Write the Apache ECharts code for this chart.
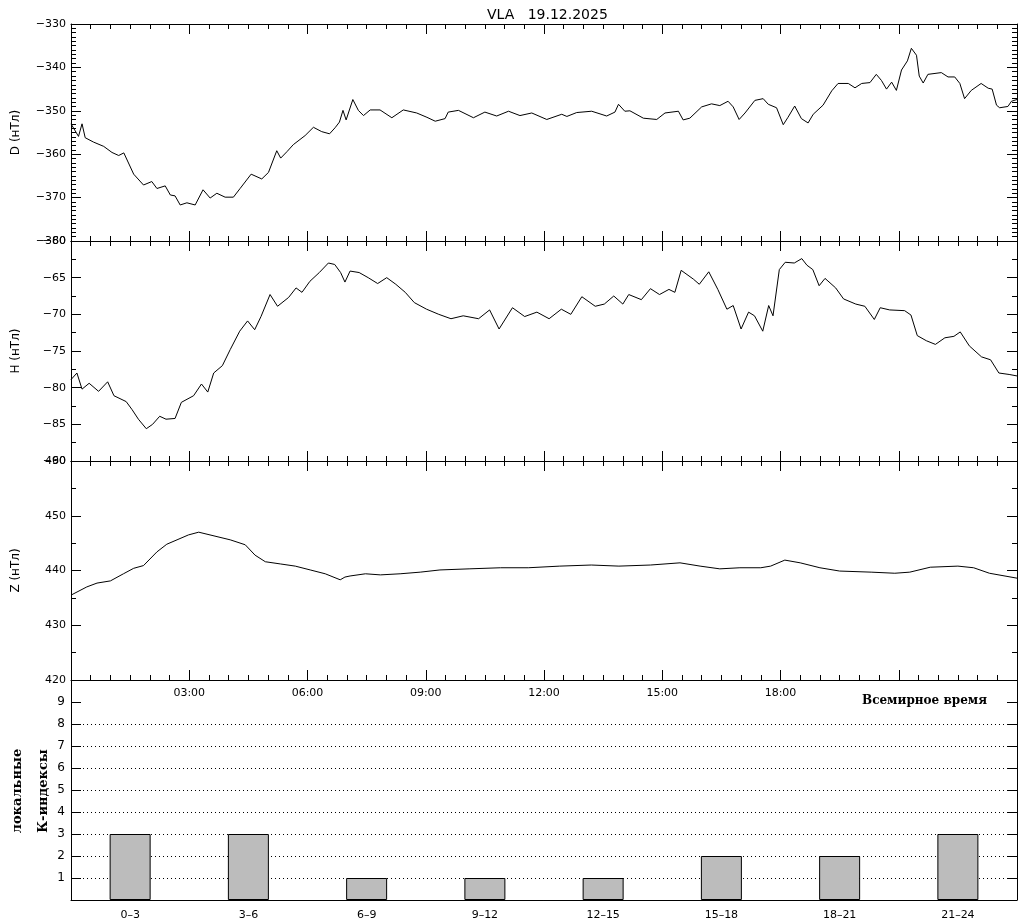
<!DOCTYPE html>
<html><head><meta charset="utf-8">
<script src="https://cdn.jsdelivr.net/npm/echarts@6/dist/echarts.min.js"></script>
<style>html,body{margin:0;padding:0;background:#fff}#c{width:1024px;height:921px}</style>
</head><body><div id="c"></div>
<script>
// ---- data (hours UT, nT) ----
const dTime = [0.00,0.19,0.28,0.36,0.57,0.83,1.04,1.21,1.34,1.59,1.84,2.05,2.18,2.39,2.52,2.64,2.77,2.94,3.15,3.35,3.53,3.70,3.91,4.12,4.29,4.57,4.84,5.01,5.22,5.32,5.48,5.64,5.94,6.15,6.36,6.56,6.70,6.81,6.90,6.98,7.15,7.29,7.42,7.59,7.84,8.14,8.43,8.77,9.03,9.24,9.49,9.57,9.83,10.21,10.50,10.80,11.10,11.39,11.69,12.07,12.45,12.58,12.83,13.21,13.59,13.80,13.89,14.05,14.18,14.52,14.86,15.07,15.41,15.53,15.70,16.00,16.25,16.46,16.67,16.80,16.95,17.10,17.35,17.56,17.69,17.90,18.07,18.19,18.36,18.53,18.70,18.83,19.08,19.30,19.46,19.72,19.89,20.06,20.27,20.43,20.56,20.69,20.82,20.94,21.07,21.22,21.32,21.45,21.52,21.62,21.74,22.08,22.25,22.42,22.55,22.67,22.84,23.09,23.27,23.37,23.48,23.56,23.77,23.86,24.00];
const dVal = [-353.0,-355.9,-353.0,-356.2,-357.2,-358.2,-359.6,-360.3,-359.7,-364.6,-367.1,-366.3,-367.9,-367.3,-369.4,-369.6,-371.7,-371.2,-371.7,-368.2,-370.1,-369.0,-369.9,-369.9,-367.9,-364.6,-365.7,-364.2,-359.2,-360.9,-359.4,-357.8,-355.7,-353.8,-354.8,-355.3,-353.9,-352.6,-349.9,-352.1,-347.4,-349.9,-351.1,-349.8,-349.8,-351.6,-349.8,-350.5,-351.5,-352.4,-351.8,-350.3,-349.9,-351.6,-350.3,-351.2,-350.1,-351.1,-350.5,-352.0,-350.8,-351.3,-350.4,-350.1,-351.2,-350.3,-348.5,-350.1,-350.0,-351.7,-352.0,-350.5,-350.1,-352.1,-351.7,-349.1,-348.4,-348.8,-347.8,-349.1,-352.0,-350.5,-347.6,-347.2,-348.5,-349.3,-353.2,-351.5,-348.9,-351.8,-352.8,-350.8,-348.7,-345.4,-343.7,-343.7,-344.7,-343.7,-343.5,-341.6,-343.0,-345.0,-343.4,-345.3,-340.6,-338.5,-335.6,-337.2,-342.0,-343.6,-341.6,-341.2,-342.2,-342.2,-343.7,-347.2,-345.3,-343.7,-344.8,-345.0,-348.7,-349.3,-349.0,-347.8,-347.4];

const hTime = [0.00,0.15,0.28,0.46,0.70,0.93,1.09,1.40,1.55,1.71,1.91,2.07,2.25,2.41,2.64,2.80,3.11,3.31,3.47,3.62,3.84,4.04,4.28,4.48,4.66,4.82,5.05,5.24,5.52,5.71,5.86,6.06,6.30,6.53,6.69,6.84,6.95,7.08,7.31,7.54,7.78,8.01,8.24,8.48,8.71,9.02,9.33,9.64,9.95,10.34,10.62,10.86,11.20,11.51,11.82,12.13,12.44,12.68,12.96,13.30,13.53,13.77,14.00,14.15,14.47,14.70,14.93,15.17,15.32,15.48,15.79,15.94,16.18,16.41,16.64,16.80,17.00,17.19,17.34,17.55,17.70,17.81,17.97,18.12,18.35,18.54,18.67,18.82,18.98,19.13,19.40,19.60,19.91,20.14,20.38,20.53,20.77,21.15,21.31,21.47,21.70,21.93,22.17,22.40,22.56,22.79,23.10,23.33,23.54,23.80,24.00];
const hVal = [-78.9,-78.0,-80.2,-79.4,-80.5,-79.2,-81.1,-81.9,-83.0,-84.3,-85.6,-85.0,-83.9,-84.3,-84.2,-82.0,-81.1,-79.5,-80.6,-78.0,-77.0,-74.8,-72.3,-70.9,-72.1,-70.3,-67.3,-68.9,-67.7,-66.4,-67.0,-65.5,-64.3,-63.0,-63.2,-64.3,-65.6,-64.1,-64.3,-65.0,-65.8,-65.0,-65.9,-67.0,-68.4,-69.3,-70.0,-70.6,-70.2,-70.6,-69.4,-72.0,-69.1,-70.3,-69.7,-70.6,-69.3,-70.0,-67.6,-68.9,-68.6,-67.5,-68.6,-67.3,-68.0,-66.5,-67.3,-66.6,-67.0,-64.0,-65.2,-65.9,-64.2,-66.6,-69.3,-68.8,-72.0,-69.7,-70.2,-72.3,-68.8,-70.2,-63.9,-62.9,-63.0,-62.4,-63.3,-63.9,-66.1,-65.1,-66.4,-67.9,-68.6,-68.9,-70.7,-69.1,-69.4,-69.5,-70.1,-72.9,-73.6,-74.1,-73.2,-73.0,-72.4,-74.3,-75.8,-76.2,-78.0,-78.2,-78.4];

const zTime = [0.00,0.40,0.66,1.00,1.33,1.59,1.84,2.18,2.43,2.69,2.98,3.24,4.04,4.42,4.67,4.93,5.31,5.69,6.07,6.45,6.83,6.95,7.08,7.47,7.85,8.35,8.86,9.36,10.10,10.90,11.60,12.40,13.20,13.90,14.70,15.45,15.96,16.46,16.97,17.50,17.75,18.11,18.50,19.00,19.50,20.30,20.90,21.28,21.80,22.50,22.90,23.30,24.00];
const zVal = [435.5,437.0,437.7,438.1,439.4,440.4,440.9,443.4,444.8,445.6,446.5,447.0,445.6,444.7,442.8,441.6,441.2,440.8,440.1,439.4,438.3,438.8,439.0,439.4,439.2,439.4,439.7,440.1,440.3,440.5,440.5,440.8,441.0,440.8,441.0,441.4,440.8,440.3,440.5,440.5,440.8,441.9,441.4,440.5,439.9,439.7,439.5,439.7,440.6,440.8,440.5,439.5,438.6];

const kCats = ['0–3','3–6','6–9','9–12','12–15','15–18','18–21','21–24'];
const kVals = [3,3,1,1,1,2,2,3];

const dTicks = [-380,-370,-360,-350,-340,-330];
const hTicks = [-90,-85,-80,-75,-70,-65,-60];
const zTicks = [420,430,440,450,460];
const timeLabels = ['03:00','06:00','09:00','12:00','15:00','18:00'];

// ---- chart ----
const FONT = 'DejaVu Sans';
const SERIF_B = 'bold 13px "DejaVu Serif"';
const chart = echarts.init(document.getElementById('c'), null, {renderer:'canvas'});
const grids = [
  {left:71, top:24, width:946, height:217},
  {left:71, top:241, width:946, height:220},
  {left:71, top:461, width:946, height:219},
  {left:71, top:680, width:946, height:220}
].map(g => Object.assign({outerBoundsMode:'none', containLabel:false, show:false}, g));

const black = {color:'#000', width:1};
function xAx(gi, pos, labels) {
  return {
    type:'value', gridIndex:gi, position:pos, min:0, max:24, interval:3,
    axisLine:{show:true, onZero:false, lineStyle:black},
    axisTick:{show:true, inside:true, length:10, lineStyle:black},
    minorTick:{show:true, splitNumber:6, length:5, lineStyle:black},
    splitLine:{show:false}, minorSplitLine:{show:false},
    axisLabel: labels ? {show:true, margin:8, color:'#000', fontFamily:FONT, fontSize:11,
      showMinLabel:true, showMaxLabel:true,
      formatter: v => { const s = (v<10?'0':'')+v+':00'; return timeLabels.indexOf(s)>=0 ? s : ''; }}
      : {show:false}
  };
}
function yAx(gi, pos, ticks, minor, name) {
  const min = ticks[0], max = ticks[ticks.length-1];
  return {
    type:'value', gridIndex:gi, position:pos, min:min, max:max, interval:ticks[1]-ticks[0],
    axisLine:{show:true, onZero:false, lineStyle:black},
    axisTick:{show:true, inside:true, length:10, lineStyle:black},
    minorTick:{show:true, splitNumber:minor, length:5, lineStyle:black},
    splitLine:{show:false}, minorSplitLine:{show:false},
    axisLabel: pos==='left' ? {show:true, margin:5, color:'#000', fontFamily:FONT, fontSize:11,
      showMinLabel:true, showMaxLabel:true, hideOverlap:false,
      formatter: v => String(v).replace('-', '\u2212')} : {show:false},
    name: pos==='left' ? name : '', nameLocation:'middle', nameGap:49, nameRotate:90,
    nameTextStyle:{color:'#000', fontFamily:FONT, fontSize:12}
  };
}

const xAxis = [
  xAx(0,'bottom',false), xAx(0,'top',false),
  xAx(1,'bottom',false), xAx(1,'top',false),
  xAx(2,'bottom',true),  xAx(2,'top',false),
  {type:'category', gridIndex:3, position:'bottom', data:kCats, boundaryGap:true,
   axisLine:{show:true, lineStyle:black}, axisTick:{show:false},
   axisLabel:{color:'#000', fontFamily:FONT, fontSize:11, margin:10, interval:0},
   splitLine:{show:false}}
];
const kSplitColors = ['rgba(0,0,0,0)','#000','#000','#000','#000','#000','#000','#000','#000','rgba(0,0,0,0)','rgba(0,0,0,0)'];
function kAx(pos) {
  return {
    type:'value', gridIndex:3, position:pos, min:0, max:10, interval:1,
    axisLine:{show:true, onZero:false, lineStyle:black},
    axisTick:{show:true, inside:true, length:10, lineStyle:black},
    splitLine: pos==='left' ? {show:true, showMinLine:true, showMaxLine:true,
      lineStyle:{color:kSplitColors, width:1, type:[1,3]}} : {show:false},
    axisLabel: pos==='left' ? {show:true, margin:6, color:'#000', fontFamily:FONT, fontSize:12,
      showMinLabel:true, showMaxLabel:true,
      formatter: v => (v>=1 && v<=9) ? String(v) : ''} : {show:false}
  };
}
const yAxis = [
  yAx(0,'left',dTicks,10,'D (нТл)'), yAx(0,'right',dTicks,10,''),
  yAx(1,'left',hTicks,2,'H (нТл)'),  yAx(1,'right',hTicks,2,''),
  yAx(2,'left',zTicks,2,'Z (нТл)'),  yAx(2,'right',zTicks,2,''),
  kAx('left'), kAx('right')
];
function lineSeries(xi, yi, times, vals) {
  return {type:'line', xAxisIndex:xi, yAxisIndex:yi, data:times.map((t,i)=>[t, vals[i]]),
    showSymbol:false, symbol:'none', lineStyle:{color:'#000', width:1}, clip:true, silent:true};
}
chart.setOption({
  animation:false, backgroundColor:'#fff',
  title:{text:'VLA   19.12.2025', left:482, top:3,
    textStyle:{fontFamily:FONT, fontSize:14, fontWeight:'normal', color:'#000'}},
  grid:grids, xAxis:xAxis, yAxis:yAxis,
  series:[
    lineSeries(0,0,dTime,dVal),
    lineSeries(2,2,hTime,hVal),
    lineSeries(4,4,zTime,zVal),
    {type:'bar', xAxisIndex:6, yAxisIndex:6, data:kVals, barWidth:41,
     itemStyle:{color:'#bcbcbc', borderColor:'#000', borderWidth:1}, silent:true}
  ],
  graphic:[
    {type:'text', left:862, top:695, style:{text:'Всемирное время', font:'bold 12px "DejaVu Serif"', fill:'#000'}},
    {type:'text', x:18, y:791, rotation:Math.PI/2,
     style:{text:'локальные', font:SERIF_B, fill:'#000', textAlign:'center', textVerticalAlign:'middle'}},
    {type:'text', x:44, y:791, rotation:Math.PI/2,
     style:{text:'К-индексы', font:SERIF_B, fill:'#000', textAlign:'center', textVerticalAlign:'middle'}}
  ]
});
</script></body></html>
